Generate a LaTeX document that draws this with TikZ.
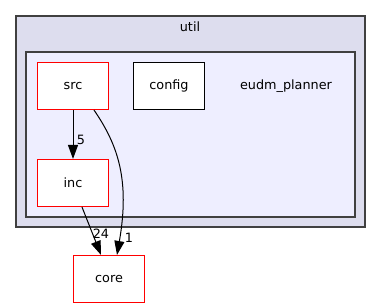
\documentclass[tikz,border=0pt]{standalone}
\usepackage{fontspec}
\setmainfont{DejaVu Sans}
\usepackage{xcolor}
\usepackage{tikz}
\usetikzlibrary{positioning,calc,arrows.meta}

\definecolor{clusterout}{HTML}{DDDDEE}
\definecolor{clusterin}{HTML}{EEEEFF}
\definecolor{clusterline}{HTML}{404040}
\definecolor{dirred}{HTML}{FF0000}

\tikzset{
  dirbox/.style={draw=dirred, fill=white, line width=1.1pt, minimum width=71pt, minimum height=47pt, inner sep=0pt},
  plainbox/.style={draw=black, fill=white, line width=1.1pt, minimum width=71pt, minimum height=47pt, inner sep=0pt},
  dep/.style={draw=black, line width=1pt, -{Triangle[length=14pt,width=10pt]}},
  cnt/.style={inner sep=0pt}
}

\begin{document}
\begin{tikzpicture}[font=\fontsize{12.8}{15}\selectfont]
  \useasboundingbox (0pt,0pt) rectangle (381pt,-308pt);

  % clusters
  \filldraw[fill=clusterout, draw=clusterline, line width=1.2pt] (16pt,-16pt) rectangle (365pt,-227pt);
  \node (util) at (190pt,-27pt) {util};
  \filldraw[fill=clusterin, draw=clusterline, line width=1.2pt] (26pt,-52pt) rectangle (355pt,-217pt);
  \node (eudm) at (286pt,-86pt) {eudm\_planner};

  % directories
  \node[dirbox] (src) at (73pt,-86pt) {src};
  \node[plainbox] (config) at (169pt,-86pt) {config};
  \node[dirbox] (inc) at (73pt,-183pt) {inc};
  \node[dirbox] (core) at (109pt,-279pt) {core};

  % dependencies
  \draw[dep] (src.south) -- (inc.north);
  \node[cnt] at (81pt,-140pt) {5};
  \draw[dep] ($(inc.south)+(9pt,0pt)$) -- ($(core.north)+(-8pt,0pt)$);
  \node[cnt] at (101pt,-234pt) {24};
  \draw[dep] ($(src.south)+(21pt,0pt)$) .. controls (118pt,-145pt) and (130pt,-180pt) .. ($(core.north)+(8pt,0pt)$);
  \node[cnt] at (129pt,-238pt) {1};
\end{tikzpicture}
\end{document}
